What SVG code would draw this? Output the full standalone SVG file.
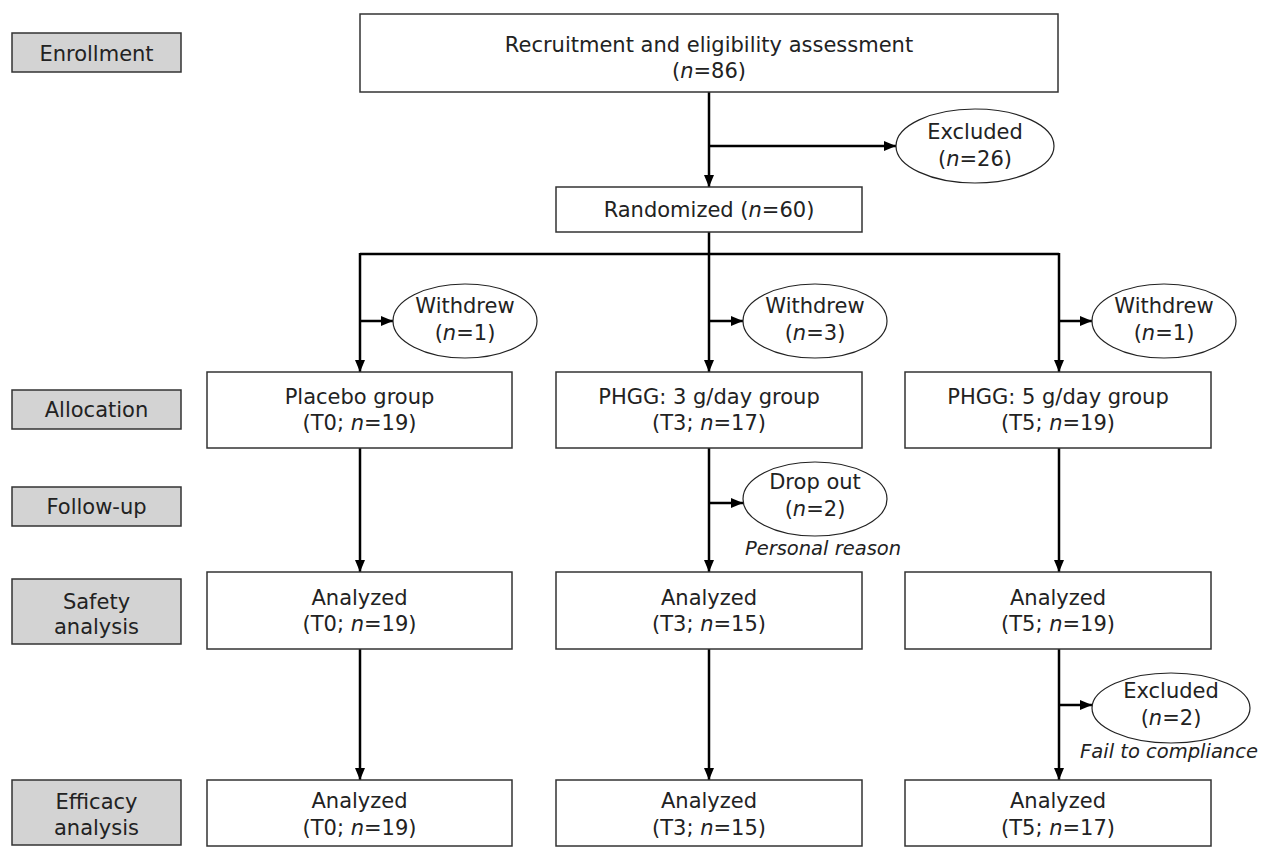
<svg xmlns="http://www.w3.org/2000/svg" width="1261" height="848" viewBox="0 0 1261 848">
<defs>
<marker id="arr" markerUnits="userSpaceOnUse" markerWidth="12" markerHeight="12" viewBox="0 0 12 12" refX="12" refY="6" orient="auto">
<path d="M0,1 L12,6 L0,11 Z" fill="#000"/>
</marker>
<style>
text{font-family:"DejaVu Sans","Verdana",sans-serif;font-size:21px;fill:#222;text-anchor:middle}
.lab rect{fill:#d3d3d3;stroke:#333;stroke-width:1.5}
.box rect{fill:#fff;stroke:#333;stroke-width:1.5}
.ell ellipse{fill:#fff;stroke:#222;stroke-width:1.2}
.c{fill:none;stroke:#000;stroke-width:2.5}
.ca{fill:none;stroke:#000;stroke-width:2.5;marker-end:url(#arr)}
.it{font-style:italic}
.note{font-style:italic;font-size:19.5px}
</style>
</defs>
<rect width="1261" height="848" fill="#fff"/>

<g id="labels">
<g id="lab-enroll" class="lab"><rect x="12" y="33" width="169" height="39"/><text x="96.5" y="60.5">Enrollment</text></g>
<g id="lab-alloc" class="lab"><rect x="12" y="390" width="169" height="39"/><text x="96.5" y="417">Allocation</text></g>
<g id="lab-follow" class="lab"><rect x="12" y="487" width="169" height="39"/><text x="96.5" y="514">Follow-up</text></g>
<g id="lab-safety" class="lab"><rect x="12" y="579" width="169" height="65"/><text x="96.5" y="608.5">Safety</text><text x="96.5" y="634">analysis</text></g>
<g id="lab-eff" class="lab"><rect x="12" y="780" width="169" height="65"/><text x="96.5" y="808.5">Efficacy</text><text x="96.5" y="834.5">analysis</text></g>
</g>

<g id="connectors">
<line class="ca" x1="709" y1="92" x2="709" y2="187"/>
<line class="ca" x1="709" y1="146" x2="896" y2="146"/>
<polyline class="c" points="709,232 709,254"/>
<polyline class="c" points="360,254 1059,254"/>
<line class="ca" x1="360" y1="253" x2="360" y2="372"/>
<line class="ca" x1="709" y1="253" x2="709" y2="372"/>
<line class="ca" x1="1059" y1="253" x2="1059" y2="372"/>
<line class="ca" x1="360" y1="321" x2="393" y2="321"/>
<line class="ca" x1="709" y1="321" x2="743" y2="321"/>
<line class="ca" x1="1059" y1="321" x2="1092" y2="321"/>
<line class="ca" x1="360" y1="448" x2="360" y2="572"/>
<line class="ca" x1="709" y1="448" x2="709" y2="572"/>
<line class="ca" x1="1059" y1="448" x2="1059" y2="572"/>
<line class="ca" x1="709" y1="503" x2="743" y2="503"/>
<line class="ca" x1="360" y1="649" x2="360" y2="780"/>
<line class="ca" x1="709" y1="649" x2="709" y2="780"/>
<line class="ca" x1="1059" y1="649" x2="1059" y2="780"/>
<line class="ca" x1="1059" y1="705" x2="1092" y2="705"/>
</g>

<g id="n-recruit" class="box"><rect x="360" y="14" width="698" height="78"/><text x="709" y="51.5">Recruitment and eligibility assessment</text><text x="709" y="78">(<tspan class="it">n</tspan>=86)</text></g>
<g id="n-excl1" class="ell"><ellipse cx="975" cy="146" rx="79" ry="37"/><text x="975" y="138.5">Excluded</text><text x="975" y="166">(<tspan class="it">n</tspan>=26)</text></g>
<g id="n-random" class="box"><rect x="556" y="187" width="306" height="45"/><text x="709" y="217">Randomized (<tspan class="it">n</tspan>=60)</text></g>

<g id="n-wd1" class="ell"><ellipse cx="465" cy="321" rx="72" ry="37"/><text x="465" y="312.5">Withdrew</text><text x="465" y="339.5">(<tspan class="it">n</tspan>=1)</text></g>
<g id="n-wd2" class="ell"><ellipse cx="815" cy="321" rx="72" ry="37"/><text x="815" y="312.5">Withdrew</text><text x="815" y="339.5">(<tspan class="it">n</tspan>=3)</text></g>
<g id="n-wd3" class="ell"><ellipse cx="1164" cy="321" rx="72" ry="37"/><text x="1164" y="312.5">Withdrew</text><text x="1164" y="339.5">(<tspan class="it">n</tspan>=1)</text></g>

<g id="n-placebo" class="box"><rect x="207" y="372" width="305" height="76"/><text x="359.5" y="403.5">Placebo group</text><text x="359.5" y="430">(T0; <tspan class="it">n</tspan>=19)</text></g>
<g id="n-t3" class="box"><rect x="556" y="372" width="306" height="76"/><text x="709" y="403.5">PHGG: 3 g/day group</text><text x="709" y="430">(T3; <tspan class="it">n</tspan>=17)</text></g>
<g id="n-t5" class="box"><rect x="905" y="372" width="306" height="76"/><text x="1058" y="403.5">PHGG: 5 g/day group</text><text x="1058" y="430">(T5; <tspan class="it">n</tspan>=19)</text></g>

<g id="n-drop" class="ell"><ellipse cx="815" cy="499" rx="72" ry="37"/><text x="815" y="489">Drop out</text><text x="815" y="516">(<tspan class="it">n</tspan>=2)</text><text class="note" x="823" y="555">Personal reason</text></g>

<g id="n-s0" class="box"><rect x="207" y="572" width="305" height="77"/><text x="359.5" y="605">Analyzed</text><text x="359.5" y="631">(T0; <tspan class="it">n</tspan>=19)</text></g>
<g id="n-s3" class="box"><rect x="556" y="572" width="306" height="77"/><text x="709" y="605">Analyzed</text><text x="709" y="631">(T3; <tspan class="it">n</tspan>=15)</text></g>
<g id="n-s5" class="box"><rect x="905" y="572" width="306" height="77"/><text x="1058" y="605">Analyzed</text><text x="1058" y="631">(T5; <tspan class="it">n</tspan>=19)</text></g>

<g id="n-excl2" class="ell"><ellipse cx="1171" cy="708" rx="79" ry="35"/><text x="1171" y="698">Excluded</text><text x="1171" y="725">(<tspan class="it">n</tspan>=2)</text><text class="note" x="1169" y="758">Fail to compliance</text></g>

<g id="n-e0" class="box"><rect x="207" y="780" width="305" height="66"/><text x="359.5" y="808">Analyzed</text><text x="359.5" y="834.5">(T0; <tspan class="it">n</tspan>=19)</text></g>
<g id="n-e3" class="box"><rect x="556" y="780" width="306" height="66"/><text x="709" y="808">Analyzed</text><text x="709" y="834.5">(T3; <tspan class="it">n</tspan>=15)</text></g>
<g id="n-e5" class="box"><rect x="905" y="780" width="306" height="66"/><text x="1058" y="808">Analyzed</text><text x="1058" y="834.5">(T5; <tspan class="it">n</tspan>=17)</text></g>
</svg>
